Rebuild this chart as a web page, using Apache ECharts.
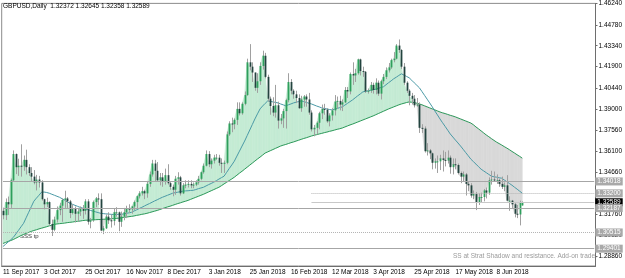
<!DOCTYPE html>
<html>
<head>
<meta charset="utf-8">
<script src="https://cdn.jsdelivr.net/npm/echarts@6/dist/echarts.min.js"></script>
<style>
html,body{margin:0;padding:0;background:#fff}
#chart{width:625px;height:278px}
</style>
</head>
<body>
<div id="chart"></div>
<script>
// GBPUSD daily, 11 Sep 2017 .. 22 Jun 2018
const dates = [
  '11 Sep 2017','12 Sep 2017','13 Sep 2017','14 Sep 2017','15 Sep 2017','18 Sep 2017','19 Sep 2017','20 Sep 2017','21 Sep 2017','22 Sep 2017','25 Sep 2017','26 Sep 2017','27 Sep 2017','28 Sep 2017','29 Sep 2017',
  '2 Oct 2017','3 Oct 2017','4 Oct 2017','5 Oct 2017','6 Oct 2017','9 Oct 2017','10 Oct 2017','11 Oct 2017','12 Oct 2017','13 Oct 2017','16 Oct 2017','17 Oct 2017','18 Oct 2017','19 Oct 2017','20 Oct 2017','23 Oct 2017','24 Oct 2017','25 Oct 2017','26 Oct 2017','27 Oct 2017','30 Oct 2017','31 Oct 2017',
  '1 Nov 2017','2 Nov 2017','3 Nov 2017','6 Nov 2017','7 Nov 2017','8 Nov 2017','9 Nov 2017','10 Nov 2017','13 Nov 2017','14 Nov 2017','15 Nov 2017','16 Nov 2017','17 Nov 2017','20 Nov 2017','21 Nov 2017','22 Nov 2017','23 Nov 2017','24 Nov 2017','27 Nov 2017','28 Nov 2017','29 Nov 2017','30 Nov 2017',
  '1 Dec 2017','4 Dec 2017','5 Dec 2017','6 Dec 2017','7 Dec 2017','8 Dec 2017','11 Dec 2017','12 Dec 2017','13 Dec 2017','14 Dec 2017','15 Dec 2017','18 Dec 2017','19 Dec 2017','20 Dec 2017','21 Dec 2017','22 Dec 2017','26 Dec 2017','27 Dec 2017','28 Dec 2017','29 Dec 2017',
  '2 Jan 2018','3 Jan 2018','4 Jan 2018','5 Jan 2018','8 Jan 2018','9 Jan 2018','10 Jan 2018','11 Jan 2018','12 Jan 2018','15 Jan 2018','16 Jan 2018','17 Jan 2018','18 Jan 2018','19 Jan 2018','22 Jan 2018','23 Jan 2018','24 Jan 2018','25 Jan 2018','26 Jan 2018','29 Jan 2018','30 Jan 2018','31 Jan 2018',
  '1 Feb 2018','2 Feb 2018','5 Feb 2018','6 Feb 2018','7 Feb 2018','8 Feb 2018','9 Feb 2018','12 Feb 2018','13 Feb 2018','14 Feb 2018','15 Feb 2018','16 Feb 2018','19 Feb 2018','20 Feb 2018','21 Feb 2018','22 Feb 2018','23 Feb 2018','26 Feb 2018','27 Feb 2018','28 Feb 2018',
  '1 Mar 2018','2 Mar 2018','5 Mar 2018','6 Mar 2018','7 Mar 2018','8 Mar 2018','9 Mar 2018','12 Mar 2018','13 Mar 2018','14 Mar 2018','15 Mar 2018','16 Mar 2018','19 Mar 2018','20 Mar 2018','21 Mar 2018','22 Mar 2018','23 Mar 2018','26 Mar 2018','27 Mar 2018','28 Mar 2018','29 Mar 2018','30 Mar 2018',
  '2 Apr 2018','3 Apr 2018','4 Apr 2018','5 Apr 2018','6 Apr 2018','9 Apr 2018','10 Apr 2018','11 Apr 2018','12 Apr 2018','13 Apr 2018','16 Apr 2018','17 Apr 2018','18 Apr 2018','19 Apr 2018','20 Apr 2018','23 Apr 2018','24 Apr 2018','25 Apr 2018','26 Apr 2018','27 Apr 2018','30 Apr 2018',
  '1 May 2018','2 May 2018','3 May 2018','4 May 2018','7 May 2018','8 May 2018','9 May 2018','10 May 2018','11 May 2018','14 May 2018','15 May 2018','16 May 2018','17 May 2018','18 May 2018','21 May 2018','22 May 2018','23 May 2018','24 May 2018','25 May 2018','28 May 2018','29 May 2018','30 May 2018','31 May 2018',
  '1 Jun 2018','4 Jun 2018','5 Jun 2018','6 Jun 2018','7 Jun 2018','8 Jun 2018','11 Jun 2018','12 Jun 2018','13 Jun 2018','14 Jun 2018','15 Jun 2018','18 Jun 2018','19 Jun 2018','20 Jun 2018','21 Jun 2018','22 Jun 2018'
];
const opens = [
  1.3200,1.3170,1.3260,1.3245,1.3410,1.3590,1.3500,1.3510,1.3505,1.3550,1.3500,1.3460,1.3435,1.3395,1.3415,
  1.3395,1.3280,1.3245,1.3260,1.3110,1.3070,1.3140,1.3205,1.3235,1.3275,1.3285,1.3265,1.3185,1.3215,1.3180,1.3195,1.3215,1.3200,1.3265,1.3125,1.3135,1.3260,
  1.3285,1.3280,1.3065,1.3080,1.3160,1.3135,1.3130,1.3190,1.3190,1.3125,1.3160,1.3190,1.3215,1.3210,1.3230,1.3260,1.3300,1.3320,1.3335,1.3320,1.3385,1.3450,
  1.3525,1.3475,1.3410,1.3430,1.3400,1.3445,1.3390,1.3365,1.3345,1.3420,1.3430,1.3320,1.3375,1.3380,1.3385,1.3375,1.3380,1.3395,1.3420,1.3465,
  1.3510,1.3590,1.3520,1.3545,1.3565,1.3565,1.3530,1.3525,1.3530,1.3725,1.3800,1.3795,1.3825,1.3900,1.3870,1.3935,1.3995,1.4220,1.4190,1.4150,1.4045,1.4090,
  1.4195,1.4265,1.4120,1.3970,1.3920,1.3875,1.3925,1.3820,1.3835,1.3885,1.3960,1.4085,1.4025,1.4000,1.3975,1.3905,1.3965,1.3985,1.3965,1.3875,
  1.3760,1.3770,1.3805,1.3870,1.3900,1.3895,1.3815,1.3855,1.3890,1.3950,1.3955,1.3930,1.3945,1.4030,1.4020,1.4140,1.4130,1.4145,1.4240,1.4160,1.4155,1.4020,
  1.4025,1.4065,1.4030,1.4080,1.4005,1.4090,1.4120,1.4165,1.4185,1.4235,1.4245,1.4335,1.4305,1.4190,1.4080,1.4025,1.3990,1.3970,1.3925,1.3930,1.3770,
  1.3765,1.3610,1.3615,1.3595,1.3530,1.3540,1.3540,1.3560,1.3550,1.3545,1.3565,1.3500,1.3520,1.3515,1.3460,1.3435,1.3450,1.3385,1.3375,1.3305,1.3315,1.3260,1.3295,
  1.3295,1.3340,1.3325,1.3410,1.3415,1.3410,1.3410,1.3385,1.3365,1.3375,1.3270,1.3270,1.3245,1.3180,1.3175,1.3237
];
const highs = [
  1.3222,1.3285,1.3298,1.3422,1.3615,1.3594,1.3558,1.3657,1.3580,1.3620,1.3520,1.3500,1.3480,1.3447,1.3440,
  1.3410,1.3283,1.3290,1.3265,1.3140,1.3160,1.3230,1.3255,1.3285,1.3338,1.3295,1.3275,1.3245,1.3230,1.3215,1.3230,1.3240,1.3280,1.3280,1.3150,1.3270,1.3295,
  1.3320,1.3320,1.3095,1.3175,1.3190,1.3175,1.3215,1.3225,1.3195,1.3195,1.3220,1.3235,1.3245,1.3235,1.3270,1.3305,1.3335,1.3365,1.3345,1.3400,1.3470,1.3550,
  1.3550,1.3535,1.3460,1.3460,1.3490,1.3520,1.3405,1.3380,1.3440,1.3465,1.3440,1.3390,1.3410,1.3410,1.3410,1.3395,1.3410,1.3440,1.3470,1.3525,
  1.3615,1.3610,1.3560,1.3585,1.3590,1.3585,1.3560,1.3545,1.3745,1.3815,1.3840,1.3835,1.3945,1.3945,1.3945,1.4020,1.4245,1.4345,1.4220,1.4150,1.4145,1.4220,
  1.4300,1.4285,1.4135,1.3985,1.3980,1.4065,1.3950,1.3865,1.3900,1.3970,1.4145,1.4105,1.4035,1.4025,1.4000,1.3990,1.3995,1.4000,1.4010,1.3890,
  1.3790,1.3815,1.3880,1.3930,1.3935,1.3905,1.3870,1.3905,1.3995,1.3985,1.3990,1.3965,1.4050,1.4050,1.4150,1.4220,1.4175,1.4245,1.4245,1.4190,1.4160,1.4040,
  1.4085,1.4080,1.4110,1.4095,1.4100,1.4140,1.4185,1.4215,1.4245,1.4290,1.4345,1.4377,1.4310,1.4215,1.4090,1.4035,1.4010,1.3995,1.3975,1.3945,1.3795,
  1.3780,1.3665,1.3625,1.3600,1.3560,1.3580,1.3585,1.3615,1.3605,1.3615,1.3580,1.3560,1.3560,1.3525,1.3470,1.3470,1.3460,1.3400,1.3390,1.3340,1.3330,1.3320,1.3325,
  1.3350,1.3360,1.3430,1.3475,1.3470,1.3450,1.3420,1.3435,1.3395,1.3445,1.3300,1.3275,1.3260,1.3240,1.3270,1.3265
];
const lows = [
  1.3142,1.3137,1.3172,1.3220,1.3400,1.3452,1.3440,1.3435,1.3475,1.3450,1.3440,1.3405,1.3382,1.3340,1.3360,
  1.3270,1.3210,1.3225,1.3100,1.3027,1.3060,1.3120,1.3170,1.3125,1.3220,1.3220,1.3150,1.3175,1.3120,1.3125,1.3165,1.3145,1.3175,1.3105,1.3080,1.3125,1.3225,
  1.3240,1.3060,1.3040,1.3075,1.3110,1.3085,1.3100,1.3160,1.3060,1.3090,1.3135,1.3150,1.3185,1.3180,1.3205,1.3215,1.3285,1.3305,1.3280,1.3290,1.3365,1.3435,
  1.3405,1.3400,1.3375,1.3365,1.3380,1.3380,1.3345,1.3300,1.3310,1.3380,1.3305,1.3315,1.3355,1.3360,1.3355,1.3355,1.3370,1.3380,1.3410,1.3455,
  1.3505,1.3500,1.3490,1.3525,1.3550,1.3510,1.3460,1.3460,1.3520,1.3715,1.3740,1.3760,1.3790,1.3855,1.3860,1.3925,1.3990,1.4165,1.4085,1.4025,1.4010,1.4065,
  1.4170,1.4110,1.3950,1.3860,1.3850,1.3840,1.3765,1.3795,1.3770,1.3765,1.3945,1.4000,1.3970,1.3940,1.3900,1.3880,1.3915,1.3915,1.3860,1.3745,
  1.3712,1.3725,1.3760,1.3830,1.3860,1.3805,1.3780,1.3820,1.3855,1.3900,1.3890,1.3885,1.3940,1.3975,1.4000,1.4065,1.4085,1.4135,1.4130,1.4120,1.4010,1.4005,
  1.4010,1.4005,1.4000,1.3990,1.3965,1.4070,1.4105,1.4150,1.4175,1.4220,1.4240,1.4285,1.4175,1.4065,1.4010,1.3925,1.3930,1.3910,1.3915,1.3735,1.3735,
  1.3600,1.3580,1.3555,1.3485,1.3490,1.3460,1.3480,1.3470,1.3505,1.3525,1.3455,1.3450,1.3485,1.3450,1.3390,1.3400,1.3305,1.3335,1.3290,1.3280,1.3205,1.3240,1.3255,
  1.3265,1.3285,1.3310,1.3380,1.3405,1.3385,1.3365,1.3350,1.3335,1.3265,1.3200,1.3220,1.3155,1.3150,1.3100,1.3236
];
const closes = [
  1.3170,1.3260,1.3245,1.3410,1.3590,1.3500,1.3510,1.3505,1.3550,1.3500,1.3460,1.3435,1.3395,1.3415,1.3395,
  1.3280,1.3245,1.3260,1.3110,1.3070,1.3140,1.3205,1.3235,1.3275,1.3285,1.3265,1.3185,1.3215,1.3180,1.3195,1.3215,1.3200,1.3265,1.3125,1.3135,1.3260,1.3285,
  1.3280,1.3065,1.3080,1.3160,1.3135,1.3130,1.3190,1.3190,1.3125,1.3160,1.3190,1.3215,1.3210,1.3230,1.3260,1.3300,1.3320,1.3335,1.3320,1.3385,1.3450,1.3525,
  1.3475,1.3410,1.3430,1.3400,1.3445,1.3390,1.3365,1.3345,1.3420,1.3430,1.3320,1.3375,1.3380,1.3385,1.3375,1.3380,1.3395,1.3420,1.3465,1.3510,
  1.3590,1.3520,1.3545,1.3565,1.3565,1.3530,1.3525,1.3530,1.3725,1.3800,1.3795,1.3825,1.3900,1.3870,1.3935,1.3995,1.4220,1.4190,1.4150,1.4045,1.4090,1.4195,
  1.4265,1.4120,1.3970,1.3920,1.3875,1.3925,1.3820,1.3835,1.3885,1.3960,1.4085,1.4025,1.4000,1.3975,1.3905,1.3965,1.3985,1.3965,1.3875,1.3760,
  1.3770,1.3805,1.3870,1.3900,1.3895,1.3815,1.3855,1.3890,1.3950,1.3955,1.3930,1.3945,1.4030,1.4020,1.4140,1.4130,1.4145,1.4240,1.4160,1.4155,1.4020,1.4025,
  1.4065,1.4030,1.4080,1.4005,1.4090,1.4120,1.4165,1.4185,1.4235,1.4245,1.4335,1.4305,1.4190,1.4080,1.4025,1.3990,1.3970,1.3925,1.3930,1.3770,1.3765,
  1.3610,1.3615,1.3595,1.3530,1.3540,1.3540,1.3560,1.3550,1.3545,1.3565,1.3500,1.3520,1.3515,1.3460,1.3435,1.3450,1.3385,1.3375,1.3305,1.3315,1.3260,1.3295,1.3295,
  1.3340,1.3325,1.3410,1.3415,1.3410,1.3410,1.3385,1.3365,1.3375,1.3270,1.3270,1.3245,1.3180,1.3175,1.3255,1.3259
];
// slow average (green) and fast average (teal)
const slowMa = [
  1.2976,1.2983,1.2990,1.2996,1.3003,1.3012,1.3021,1.3030,1.3038,1.3045,1.3052,1.3059,1.3065,1.3070,1.3076,1.3081,1.3086,
  1.3091,1.3097,1.3102,1.3107,1.3110,1.3112,1.3114,1.3116,1.3119,1.3121,1.3123,1.3126,1.3128,1.3130,1.3133,1.3135,
  1.3136,1.3137,1.3138,1.3139,1.3140,1.3141,1.3142,1.3143,1.3144,1.3145,1.3147,1.3148,1.3150,1.3152,1.3155,1.3157,1.3160,1.3162,
  1.3165,1.3169,1.3172,1.3176,1.3179,1.3183,1.3188,1.3193,1.3198,1.3203,1.3209,1.3215,1.3221,1.3227,1.3232,1.3238,
  1.3244,1.3250,1.3255,1.3261,1.3266,1.3272,1.3279,1.3286,1.3293,1.3300,1.3307,1.3314,1.3322,1.3330,1.3338,1.3346,1.3354,1.3362,
  1.3373,1.3385,1.3396,1.3408,1.3419,1.3431,1.3445,1.3459,1.3472,1.3486,1.3500,1.3514,1.3528,1.3542,1.3556,1.3569,1.3583,1.3597,
  1.3605,1.3613,1.3621,1.3629,1.3637,1.3645,1.3651,1.3656,1.3662,1.3668,1.3673,1.3679,1.3685,1.3691,1.3697,1.3702,1.3708,1.3714,
  1.3719,1.3723,1.3728,1.3732,1.3737,1.3741,1.3746,1.3750,1.3755,1.3760,1.3764,1.3769,1.3776,1.3783,1.3790,1.3796,1.3803,1.3810,
  1.3817,1.3824,1.3831,1.3838,1.3845,1.3852,1.3860,1.3868,1.3876,1.3884,1.3892,1.3900,1.3907,1.3914,1.3921,1.3928,
  1.3934,1.3939,1.3944,1.3948,1.3946,1.3943,1.3939,1.3934,1.3928,1.3921,1.3914,1.3907,1.3900,1.3893,1.3886,1.3879,
  1.3873,1.3868,1.3862,1.3856,1.3851,1.3845,1.3838,1.3831,1.3824,1.3817,1.3810,1.3803,1.3791,1.3776,1.3763,1.3749,1.3735,1.3721,
  1.3709,1.3696,1.3684,1.3672,1.3662,1.3652,1.3641,1.3631,1.3620,1.3608,1.3597,1.3585,1.3574,1.3562
];
const fastMa = [
  1.2955,1.2970,1.2986,1.3001,1.3017,1.3041,1.3065,1.3090,1.3114,1.3152,1.3190,1.3228,1.3266,1.3287,1.3307,1.3328,
  1.3329,1.3326,1.3321,1.3314,1.3307,1.3300,1.3293,1.3283,1.3273,1.3262,1.3252,1.3245,1.3238,1.3231,1.3224,
  1.3219,1.3213,1.3208,1.3203,1.3198,1.3193,1.3188,1.3183,1.3181,1.3179,1.3178,1.3176,1.3175,1.3175,1.3176,1.3176,
  1.3179,1.3183,1.3186,1.3190,1.3199,1.3207,1.3216,1.3224,1.3233,1.3242,1.3250,1.3259,1.3268,1.3276,1.3285,1.3293,
  1.3300,1.3307,1.3314,1.3321,1.3325,1.3328,1.3332,1.3335,1.3337,1.3338,1.3340,1.3341,1.3346,1.3352,1.3357,1.3362,
  1.3371,1.3380,1.3388,1.3397,1.3407,1.3418,1.3428,1.3438,1.3464,1.3490,1.3515,1.3541,1.3576,1.3610,1.3645,1.3679,
  1.3717,1.3755,1.3793,1.3831,1.3866,1.3900,1.3920,1.3938,1.3955,1.3952,1.3948,1.3945,1.3941,1.3934,1.3928,1.3921,
  1.3928,1.3934,1.3941,1.3946,1.3950,1.3955,1.3950,1.3945,1.3939,1.3934,1.3927,1.3920,1.3914,1.3907,1.3903,1.3900,1.3896,1.3893,
  1.3898,1.3903,1.3909,1.3914,1.3926,1.3938,1.3950,1.3962,1.3976,1.3990,1.4003,1.4017,1.4021,1.4024,1.4028,1.4031,
  1.4036,1.4041,1.4047,1.4052,1.4066,1.4080,1.4093,1.4107,1.4118,1.4130,1.4141,1.4132,1.4123,1.4114,
  1.4097,1.4079,1.4062,1.4045,1.4019,1.3993,1.3967,1.3941,1.3914,1.3886,1.3859,1.3831,1.3805,1.3780,1.3754,1.3728,
  1.3707,1.3686,1.3666,1.3645,1.3623,1.3600,1.3578,1.3555,1.3538,1.3521,1.3503,1.3486,1.3474,1.3462,1.3450,1.3438,
  1.3434,1.3431,1.3427,1.3424,1.3412,1.3400,1.3388,1.3376,1.3362,1.3349,1.3335,1.3321
];
const priceTicks = [1.28860,1.30320,1.31760,1.33220,1.34660,1.36100,1.37560,1.39000,1.40440,1.41900,1.43340,1.44780,1.46240];
// horizontal levels drawn on the chart
const levelPrices = [1.34018, 1.33200, 1.32589, 1.32187, 1.30515, 1.29401];
const levelStart = [0, 120, 120, 0, 0, 0];
const emptySlots = 28;

const FONT = 'Liberation Sans';
const UP = '#2e9f5c', DOWN = '#23443f', WICK = '#a0a0a0';
const FILL_UP = '#c4ebd4', FILL_DN = '#d9d9d9';

const chart = echarts.init(document.getElementById('chart'));
const nBars = dates.length;
const lastSlot = nBars + emptySlots - 1;
const labelEvery = (idx) => idx % 16 === 0 && idx < nBars;

function renderCandle(params, api) {
  const i = api.value(0);
  const o = api.value(1), c = api.value(2), l = api.value(3), h = api.value(4);
  const pO = api.coord([i, o]), pC = api.coord([i, c]);
  const pL = api.coord([i, l]), pH = api.coord([i, h]);
  const w = api.size([1, 0])[0] * 0.7;
  const x = Math.round(pO[0]) + 0.5;
  const top = Math.min(pO[1], pC[1]);
  return {
    type: 'group',
    children: [
      { type: 'line', shape: { x1: x, y1: pH[1], x2: x, y2: pL[1] }, style: { stroke: WICK, lineWidth: 1 } },
      { type: 'rect', shape: { x: x - w / 2, y: top, width: w, height: Math.max(1, Math.abs(pO[1] - pC[1])) },
        style: { fill: c >= o ? UP : DOWN } }
    ]
  };
}

// shaded band between close and the slow average
function renderShadow(params, api) {
  const i = api.value(0);
  const c0 = api.value(1), s0 = api.value(2), c1 = api.value(3), s1 = api.value(4);
  const a = api.coord([i, c0]), b = api.coord([i, s0]);
  const cN = api.coord([i + 1, c1]), sN = api.coord([i + 1, s1]);
  const d0 = c0 - s0, d1 = c1 - s1;
  const poly = (pts, up) => ({ type: 'polygon', shape: { points: pts },
    style: { fill: up ? FILL_UP : FILL_DN, stroke: up ? FILL_UP : FILL_DN, lineWidth: 0.6 } });
  if (d0 * d1 >= 0) {
    return poly([a, cN, sN, b], d0 + d1 >= 0);
  }
  const t = d0 / (d0 - d1);
  const m = [b[0] + t * (sN[0] - b[0]), b[1] + t * (sN[1] - b[1])];
  return { type: 'group', children: [poly([a, m, b], d0 > 0), poly([m, cN, sN], d1 > 0)] };
}

const candleData = dates.map((d, i) => [i, opens[i], closes[i], lows[i], highs[i]]);
const shadowData = [];
for (let i = 0; i < nBars - 1; i++) {
  shadowData.push([i, closes[i], slowMa[i], closes[i + 1], slowMa[i + 1]]);
}

const levelLines = levelPrices.map((p, k) => {
  const black = k === 2;
  const dotted = k === 1 || k === 4;
  const style = { color: black ? '#c8c8c8' : (dotted ? '#b4b4b4' : '#a6a6a6'), width: 1, type: dotted ? 'dotted' : 'solid' };
  const label = { show: true, position: 'end', distance: 1, formatter: () => p.toFixed(5),
    fontSize: 6.5, fontFamily: FONT, color: '#fff', backgroundColor: black ? '#000' : '#a9a9a9', padding: [1, 2, 0, 2] };
  return [{ coord: [levelStart[k], p], lineStyle: style, label: label }, { coord: [lastSlot, p] }];
});

chart.setOption({
  animation: false,
  backgroundColor: '#fff',
  grid: { left: 1, right: 22, top: 2, bottom: 12, show: true, borderColor: '#8c8c8c', borderWidth: 1 },
  xAxis: {
    type: 'category',
    data: dates.concat(new Array(emptySlots).fill('')),
    boundaryGap: true,
    axisLine: { lineStyle: { color: '#6e6e6e' } },
    axisTick: { alignWithLabel: true, interval: labelEvery, length: 3, lineStyle: { color: '#6e6e6e' } },
    axisLabel: { interval: labelEvery, align: 'left', fontSize: 6.5, fontFamily: FONT, color: '#000', margin: 3 },
    splitLine: { show: false }
  },
  yAxis: {
    type: 'value',
    position: 'right',
    min: 1.28211,
    max: 1.46247,
    splitLine: { show: false },
    axisLine: { show: true, lineStyle: { color: '#6e6e6e' } },
    axisTick: { show: true, customValues: priceTicks, length: 2, lineStyle: { color: '#6e6e6e' } },
    axisLabel: { customValues: priceTicks, formatter: (v) => v.toFixed(5), fontSize: 6.5, fontFamily: FONT, color: '#000', margin: 3 }
  },
  series: [
    { type: 'custom', name: 'shadow', renderItem: renderShadow, data: shadowData, encode: { x: 0, y: [1, 2, 3, 4] }, z: 1, silent: true },
    { type: 'line', name: 'slow', data: slowMa, symbol: 'none', lineStyle: { color: '#2f9a5c', width: 1 }, z: 3, silent: true },
    { type: 'line', name: 'fast', data: fastMa, symbol: 'none', lineStyle: { color: '#4a9aa6', width: 1 }, z: 3, silent: true,
      markLine: { symbol: 'none', silent: true, data: levelLines } },
    { type: 'custom', name: 'candles', renderItem: renderCandle, data: candleData, encode: { x: 0, y: [1, 2, 3, 4] }, z: 4 }
  ],
  graphic: [
    { type: 'text', left: 3, top: 3, style: { text: 'GBPUSD,Daily  1.32372 1.32645 1.32358 1.32589', fontSize: 6.5, fontFamily: FONT, fill: '#000' } },
    { type: 'text', left: 453, top: 253, style: { text: 'SS at Strat Shadow and resistance. Add-on trade.', fontSize: 6.5, fontFamily: FONT, fill: '#9a9a9a' } },
    { type: 'text', left: 20, top: 233, style: { text: 'SSS tp', fontSize: 6, fontFamily: FONT, fill: '#333' } }
  ]
});
</script>
</body>
</html>
